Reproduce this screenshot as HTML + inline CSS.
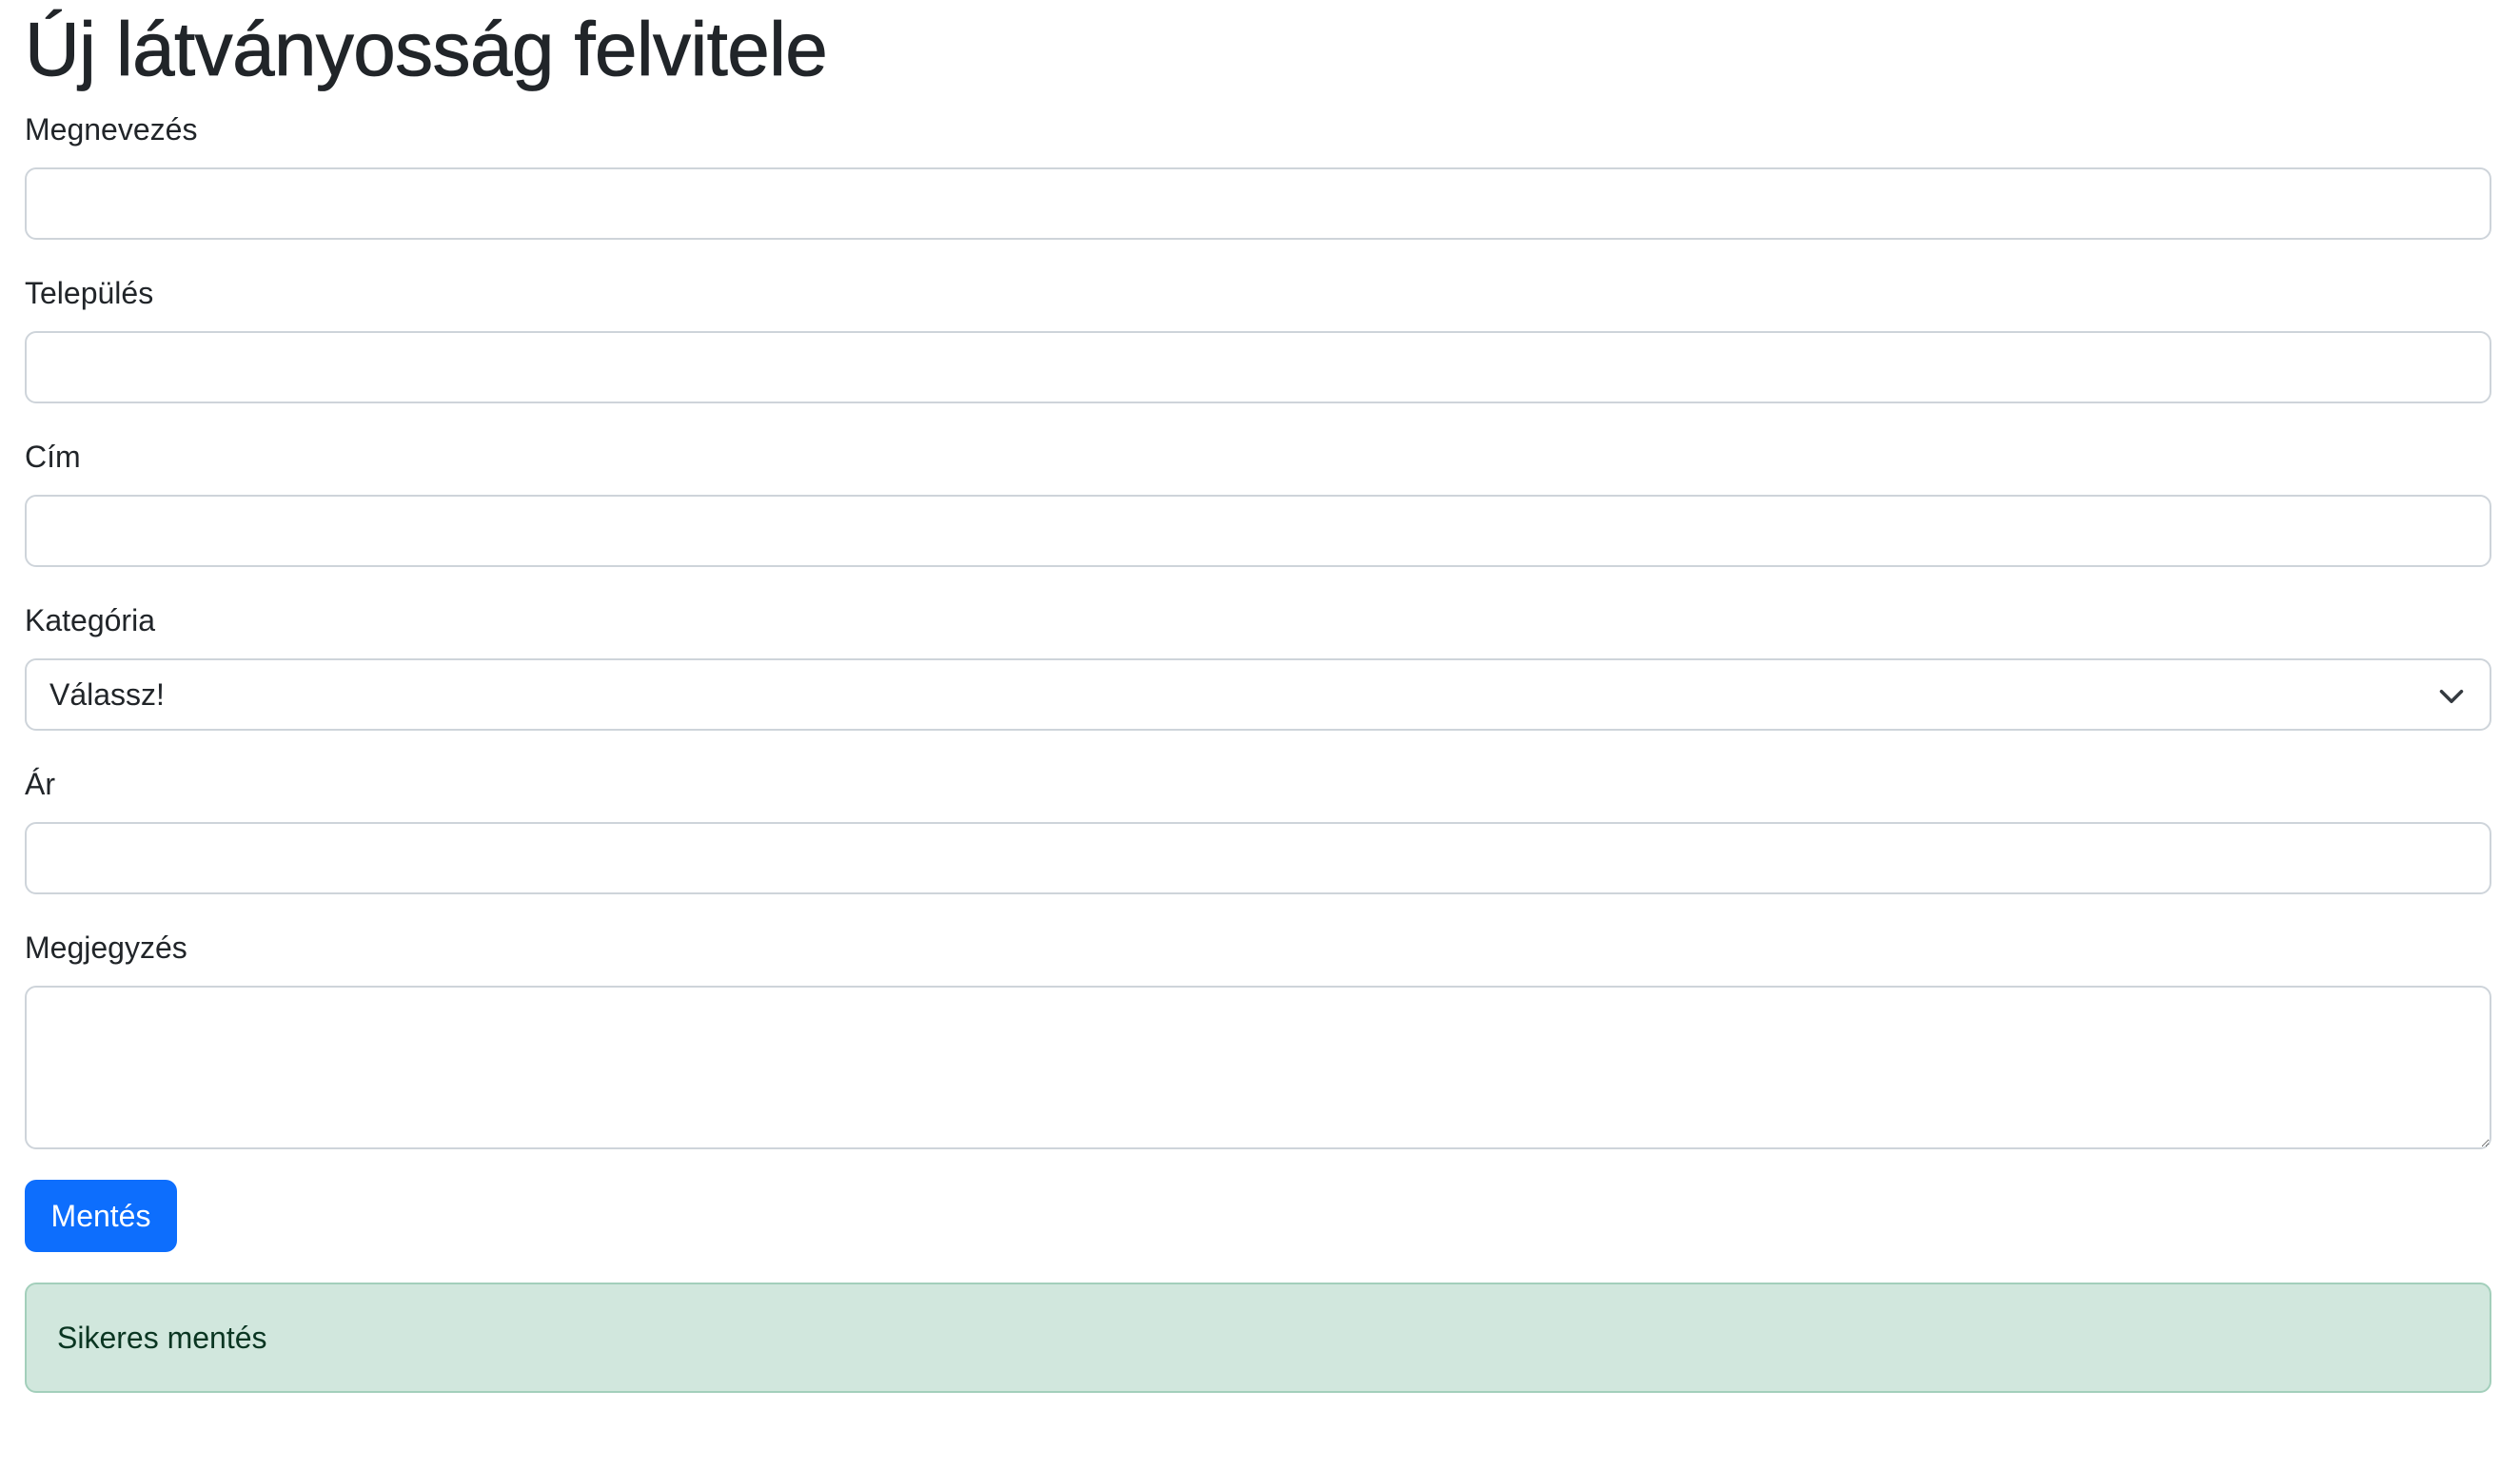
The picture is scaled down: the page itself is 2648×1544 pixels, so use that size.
<!DOCTYPE html>
<html lang="hu">
<head>
<meta charset="utf-8">
<style>
html,body{margin:0;padding:0;background:#fff;}
body{zoom:2;width:1324px;height:772px;overflow:hidden;font-family:"Liberation Sans",Arial,sans-serif;color:#212529;font-size:16px;line-height:24px;}
.wrap{padding:0 0 0 13px;width:1296px;}
h1{margin:0 0 8px 0;font-size:40px;line-height:48px;font-weight:500;letter-spacing:-0.3px;position:relative;top:2px;-webkit-text-stroke:0.4px #212529;}
.grp{margin-bottom:16px;}
label{display:block;height:24px;margin-bottom:8px;}
.ctl{box-sizing:border-box;width:1296px;height:38px;border:1px solid #ced4da;border-radius:6px;background:#fff;padding:6px 12px;font-size:16px;line-height:24px;position:relative;}
textarea.ctl{height:86px;resize:vertical;display:block;font-family:inherit;}
.sel svg{position:absolute;right:13px;top:12px;}
.btn{box-sizing:border-box;display:inline-block;height:38px;width:80px;background:#0d6efd;color:#fff;border-radius:6px;text-align:center;padding:7px 0;font-size:16px;line-height:24px;margin-bottom:16px;vertical-align:top;}
.alert{box-sizing:border-box;width:1296px;height:58px;background:#d1e7dd;border:1px solid #a3cfbb;color:#0a3622;border-radius:6px;padding:16px;}
</style>
</head>
<body>
<div class="wrap">
<h1>Új látványosság felvitele</h1>
<div class="grp"><label>Megnevezés</label><div class="ctl"></div></div>
<div class="grp"><label>Település</label><div class="ctl"></div></div>
<div class="grp"><label>Cím</label><div class="ctl"></div></div>
<div class="grp"><label>Kategória</label><div class="ctl sel">Válassz!<svg width="14" height="14" viewBox="0 0 16 16"><path d="M2 5l6 6 6-6" fill="none" stroke="#343a40" stroke-width="2" stroke-linecap="round" stroke-linejoin="round"/></svg></div></div>
<div class="grp"><label>Ár</label><div class="ctl"></div></div>
<div class="grp"><label>Megjegyzés</label><textarea class="ctl"></textarea></div>
<div><span class="btn">Mentés</span></div>
<div class="alert">Sikeres mentés</div>
</div>
</body>
</html>
